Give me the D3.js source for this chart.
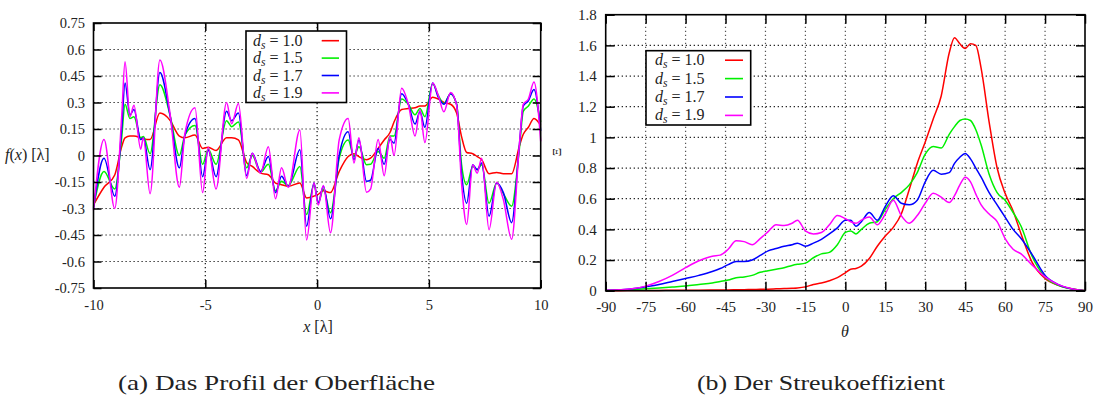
<!DOCTYPE html>
<html>
<head>
<meta charset="utf-8">
<script src="https://cdn.jsdelivr.net/npm/d3@7"></script>
<style>
  body { margin: 0; background: #fff; }
</style>
</head>
<body>
<svg id="chart" width="1099" height="406" font-family="'Liberation Serif', 'DejaVu Serif', serif"></svg>
<script>
// ---- data: (a) surface profile f(x) ----
const profileX = [-10,-9.53,-9.05,-8.74,-8.59,-8.37,-8.19,-7.89,-7.77,-7.47,-7.03,-6.58,-6.16,-5.91,-5.46,-5.12,-4.87,-4.52,-4.05,-3.82,-3.52,-3.15,-2.90,-2.53,-2.18,-1.86,-1.59,-1.29,-0.77,-0.47,-0.14,0.05,0.28,0.60,0.99,1.39,1.65,1.87,2.21,2.39,2.73,3.0,3.26,3.44,3.78,4.08,4.38,4.60,4.82,5.17,5.42,5.67,5.97,6.24,6.46,6.69,6.96,7.16,7.36,7.69,8.03,8.33,8.70,9.04,9.22,9.45,9.70,10.0];
const profile10 = [-0.28,-0.18,-0.11,0.05,0.10,0.11,0.11,0.10,0.095,0.09,
  0.24,0.20,0.11,0.10,0.116,0.04,0.047,0.028,0.10,0.10,
  0.088,-0.04,-0.062,-0.10,-0.109,-0.156,-0.165,-0.174,-0.156,-0.24,
  -0.23,-0.22,-0.2,-0.21,-0.09,-0.006,0.01,-0.006,-0.024,-0.015,
  0.04,0.088,0.13,0.19,0.26,0.266,0.27,0.28,0.28,0.33,
  0.32,0.30,0.29,0.24,0.107,0.017,0.01,-0.006,-0.024,-0.103,
  -0.096,-0.103,-0.103,0.05,0.12,0.16,0.21,0.17];
const profile15 = [-0.29,-0.09,-0.19,0.10,0.29,0.21,0.22,0.10,0.107,0.01,
  0.40,0.23,0.0,0.116,0.17,-0.05,0.035,-0.05,0.197,0.163,
  0.19,-0.07,0.0,-0.095,-0.05,-0.2,-0.146,-0.17,-0.062,-0.334,
  -0.165,-0.268,-0.19,-0.324,-0.015,0.088,-0.006,0.05,-0.052,-0.05,
  0.022,-0.015,0.11,0.11,0.32,0.29,0.23,0.266,0.22,0.407,
  0.34,0.294,0.35,0.29,-0.05,-0.165,-0.062,-0.08,-0.053,-0.27,
  -0.156,-0.216,-0.287,0.03,0.25,0.28,0.32,0.19];
const profile17 = [-0.30,-0.015,-0.23,0.15,0.41,0.23,0.26,0.09,0.10,-0.08,
  0.47,0.23,-0.07,0.116,0.21,-0.12,0.03,-0.12,0.25,0.197,
  0.24,-0.114,0.013,-0.09,-0.006,-0.21,-0.118,-0.174,0.032,-0.40,
  -0.156,-0.268,-0.174,-0.358,0.004,0.135,-0.024,0.088,-0.146,-0.14,
  0.04,-0.05,0.09,0.07,0.35,0.29,0.178,0.247,0.16,0.41,
  0.33,0.29,0.35,0.29,-0.10,-0.27,-0.053,-0.08,-0.043,-0.343,
  -0.156,-0.21,-0.38,0.05,0.28,0.31,0.373,0.14];
const profile19 = [-0.31,0.09,-0.30,0.22,0.53,0.22,0.285,0.036,0.10,-0.216,
  0.54,0.24,-0.18,0.126,0.27,-0.21,0.045,-0.19,0.30,0.18,
  0.294,-0.13,0.013,-0.10,0.05,-0.245,-0.07,-0.18,0.144,-0.478,
  -0.156,-0.28,-0.17,-0.437,0.09,0.21,-0.043,0.10,-0.208,-0.19,
  0.09,-0.114,0.11,0.0,0.38,0.29,0.11,0.257,0.073,0.41,
  0.34,0.247,0.356,0.285,-0.156,-0.39,-0.053,-0.10,-0.015,-0.42,
  -0.152,-0.25,-0.474,0.05,0.29,0.32,0.416,0.08];
const profileXTicks = [-10,-5,0,5,10];
const profileXLabels = ["-10","-5","0","5","10"];
const profileYTicks = [-0.75,-0.6,-0.45,-0.3,-0.15,0,0.15,0.3,0.45,0.6,0.75];
const profileYLabels = ["-0.75","-0.6","-0.45","-0.3","-0.15","0","0.15","0.3","0.45","0.6","0.75"];

// ---- data: (b) scattering coefficient vs theta ----
const theta = [-90,-85,-80,-75,-70,-65,-60,-55,-50,-47,-44,-41,-38,-35,-32,-29,-26,-23,-20,-18,-15,-12,-9,-6,-3,0,2,4,6,9,12,15,18,21,24,27,30,33,36,39,41,43,45,47,49,51,54,57,60,63,66,70,75,80,85,90];
const coeff10 = [0,0,0.001,0.002,0.002,0.003,0.003,0.003,0.004,
  0.005,0.005,0.006,0.007,0.008,0.009,0.01,0.012,0.014,0.016,
  0.018,0.025,0.04,0.05,0.065,0.085,0.117,
  0.14,0.145,0.16,0.21,0.29,0.357,0.413,0.5,0.66,0.83,0.97,1.12,1.27,1.55,
  1.65,1.61,1.58,1.61,1.60,1.45,1.10,0.80,0.635,0.52,0.37,0.19,0.08,0.035,0.012,0];
const coeff15 = [0.002,0.004,0.007,0.012,0.018,0.024,0.03,0.04,0.05,
  0.06,0.07,0.085,0.09,0.10,0.12,0.13,0.14,0.15,0.165,
  0.172,0.18,0.215,0.24,0.25,0.30,0.38,
  0.39,0.37,0.40,0.44,0.45,0.53,0.60,0.64,0.69,0.77,0.89,0.94,0.93,1.02,
  1.07,1.11,1.12,1.11,1.05,0.95,0.76,0.64,0.59,0.51,0.42,0.23,0.09,0.035,0.012,0];
const coeff17 = [0.002,0.006,0.012,0.025,0.04,0.06,0.08,0.10,0.125,
  0.145,0.17,0.19,0.19,0.20,0.23,0.26,0.275,0.29,0.30,
  0.31,0.29,0.31,0.335,0.37,0.41,0.46,
  0.46,0.42,0.45,0.51,0.46,0.55,0.62,0.57,0.56,0.59,0.71,0.785,0.76,0.77,
  0.83,0.87,0.895,0.86,0.80,0.74,0.64,0.56,0.48,0.40,0.34,0.24,0.10,0.04,0.012,0];
const coeff19 = [0.003,0.006,0.013,0.03,0.06,0.10,0.15,0.195,0.225,
  0.232,0.27,0.325,0.32,0.30,0.34,0.385,0.43,0.425,0.44,
  0.46,0.39,0.37,0.38,0.43,0.49,0.47,
  0.45,0.44,0.46,0.48,0.43,0.50,0.59,0.49,0.44,0.49,0.57,0.635,0.61,0.575,
  0.62,0.69,0.74,0.71,0.63,0.56,0.50,0.45,0.34,0.27,0.24,0.17,0.09,0.04,0.013,0];
const thetaTicks = [-90,-75,-60,-45,-30,-15,0,15,30,45,60,75,90];
const thetaLabels = thetaTicks.map(String);
const coeffYTicks = [0,0.2,0.4,0.6,0.8,1,1.2,1.4,1.6,1.8];
const coeffYLabels = ["0","0.2","0.4","0.6","0.8","1","1.2","1.4","1.6","1.8"];

const dsLabels = ["1.0","1.5","1.7","1.9"];
const colors = ["#ff0000","#00f000","#0000ff","#ff00ff"];
const SERIF = "'Liberation Serif', 'DejaVu Serif', serif";
const INK = "#222";

const svg = d3.select("#chart");

function drawPanel(p) {
  const g = svg.append("g");
  const x = d3.scaleLinear().domain(p.xDomain).range([p.x0, p.x1]);
  const y = d3.scaleLinear().domain(p.yDomain).range([p.y1, p.y0]);

  // dotted grid
  g.selectAll(null).data(p.xTicks.slice(1, -1)).enter().append("line")
    .attr("x1", d => x(d)).attr("x2", d => x(d)).attr("y1", p.y0).attr("y2", p.y1)
    .attr("stroke", p.vGrid).attr("stroke-width", 1.2).attr("stroke-dasharray", "1.2,2.8");
  g.selectAll(null).data(p.yTicks.slice(1, -1)).enter().append("line")
    .attr("x1", p.x0).attr("x2", p.x1).attr("y1", d => y(d)).attr("y2", d => y(d))
    .attr("stroke", "#111").attr("stroke-width", 1.2).attr("stroke-dasharray", "1.2,2.8");

  // curves
  p.series.forEach((s, k) => {
    const line = d3.line().x((d, i) => x(p.xs[i])).y(d => y(d)).curve(d3.curveMonotoneX);
    g.append("path").datum(s).attr("d", line)
      .attr("fill", "none").attr("stroke", colors[k]).attr("stroke-width", 1.5);
  });

  // axes with inward ticks on all four sides
  const style = a => {
    a.select(".domain").remove();
    a.selectAll(".tick line").attr("stroke", "#000").attr("stroke-width", 1.5);
    a.attr("font-family", SERIF).attr("font-size", p.fontSize);
    a.selectAll("text").attr("fill", INK);
  };
  g.append("g").attr("transform", `translate(0,${p.y1})`)
    .call(d3.axisBottom(x).tickValues(p.xTicks).tickSizeInner(-p.tick).tickSizeOuter(0)
      .tickPadding(p.xPad).tickFormat((d, i) => p.xLabels[i])).call(style);
  g.append("g").attr("transform", `translate(0,${p.y0})`)
    .call(d3.axisTop(x).tickValues(p.xTicks).tickSizeInner(-p.tick).tickSizeOuter(0)
      .tickFormat("")).call(style);
  g.append("g").attr("transform", `translate(${p.x0},0)`)
    .call(d3.axisLeft(y).tickValues(p.yTicks).tickSizeInner(-p.tick).tickSizeOuter(0)
      .tickPadding(p.yPad).tickFormat((d, i) => p.yLabels[i])).call(style);
  g.append("g").attr("transform", `translate(${p.x1},0)`)
    .call(d3.axisRight(y).tickValues(p.yTicks).tickSizeInner(-p.tick).tickSizeOuter(0)
      .tickFormat("")).call(style);

  g.append("rect").attr("x", p.x0).attr("y", p.y0)
    .attr("width", p.x1 - p.x0).attr("height", p.y1 - p.y0)
    .attr("fill", "none").attr("stroke", "#000").attr("stroke-width", 1.6);

  // legend
  const L = p.legend;
  const lg = g.append("g");
  lg.append("rect").attr("x", L.x).attr("y", L.y).attr("width", L.w).attr("height", L.h)
    .attr("fill", "#fff").attr("stroke", "#000").attr("stroke-width", 1.6);
  dsLabels.forEach((lab, k) => {
    const cy = L.y + L.first + k * L.step;
    const t = lg.append("text").attr("x", L.tx).attr("y", cy + 5)
      .attr("font-size", 16).attr("fill", INK).attr("font-family", SERIF);
    t.append("tspan").attr("font-style", "italic").text("d");
    t.append("tspan").attr("font-style", "italic").attr("font-size", 11.5).attr("dy", 3).text("s");
    t.append("tspan").attr("dy", -3).text(" = " + lab);
    lg.append("line").attr("x1", L.lx1).attr("x2", L.lx2).attr("y1", cy).attr("y2", cy)
      .attr("stroke", colors[k]).attr("stroke-width", 1.6);
  });
  return { x, y };
}

drawPanel({
  xDomain: [-10, 10], yDomain: [-0.75, 0.75],
  x0: 93.5, x1: 540.7, y0: 23, y1: 288,
  xTicks: profileXTicks, xLabels: profileXLabels,
  yTicks: profileYTicks, yLabels: profileYLabels,
  xs: profileX, series: [profile10, profile15, profile17, profile19],
  tick: 8, xPad: 12, yPad: 8.5, fontSize: 14.5, vGrid: "#111",
  legend: { x: 246, y: 31, w: 100.5, h: 71.5, first: 9.7, step: 17.4, tx: 253, lx1: 321.7, lx2: 339 }
});

drawPanel({
  xDomain: [-90, 90], yDomain: [0, 1.8],
  x0: 605.7, x1: 1085, y0: 14.7, y1: 290.7,
  xTicks: thetaTicks, xLabels: thetaLabels,
  yTicks: coeffYTicks, yLabels: coeffYLabels,
  xs: theta, series: [coeff10, coeff15, coeff17, coeff19],
  tick: 9, xPad: 11, yPad: 9, fontSize: 15, vGrid: "#555",
  legend: { x: 646, y: 50.7, w: 104.7, h: 74.3, first: 9.5, step: 18.4, tx: 655, lx1: 725, lx2: 743 }
});

// axis labels
const fl = svg.append("text").attr("x", 5).attr("y", 160).attr("font-size", 16)
  .attr("fill", INK).attr("font-family", SERIF);
fl.append("tspan").attr("font-style", "italic").text("f");
fl.append("tspan").text("(");
fl.append("tspan").attr("font-style", "italic").text("x");
fl.append("tspan").text(") [λ]");

const xl = svg.append("text").attr("x", 318).attr("y", 332).attr("font-size", 16)
  .attr("text-anchor", "middle").attr("fill", INK).attr("font-family", SERIF);
xl.append("tspan").attr("font-style", "italic").text("x");
xl.append("tspan").text(" [λ]");

svg.append("text").attr("x", 845).attr("y", 337).attr("font-size", 16).attr("fill", INK)
  .attr("font-family", SERIF).attr("text-anchor", "middle").attr("font-style", "italic").text("θ");

svg.append("text").attr("transform", "translate(561,152) rotate(-90)")
  .attr("font-size", 13).attr("fill", INK).attr("font-family", SERIF)
  .attr("text-anchor", "middle").text("Ξ");

// captions
svg.append("text").attr("x", 118).attr("y", 390).attr("font-size", 21).attr("fill", INK)
  .attr("font-family", SERIF)
  .attr("textLength", 317).attr("lengthAdjust", "spacingAndGlyphs").text("(a) Das Profil der Oberfläche");
svg.append("text").attr("x", 697).attr("y", 390).attr("font-size", 21).attr("fill", INK)
  .attr("font-family", SERIF)
  .attr("textLength", 248).attr("lengthAdjust", "spacingAndGlyphs").text("(b) Der Streukoeffizient");
</script>
</body>
</html>
